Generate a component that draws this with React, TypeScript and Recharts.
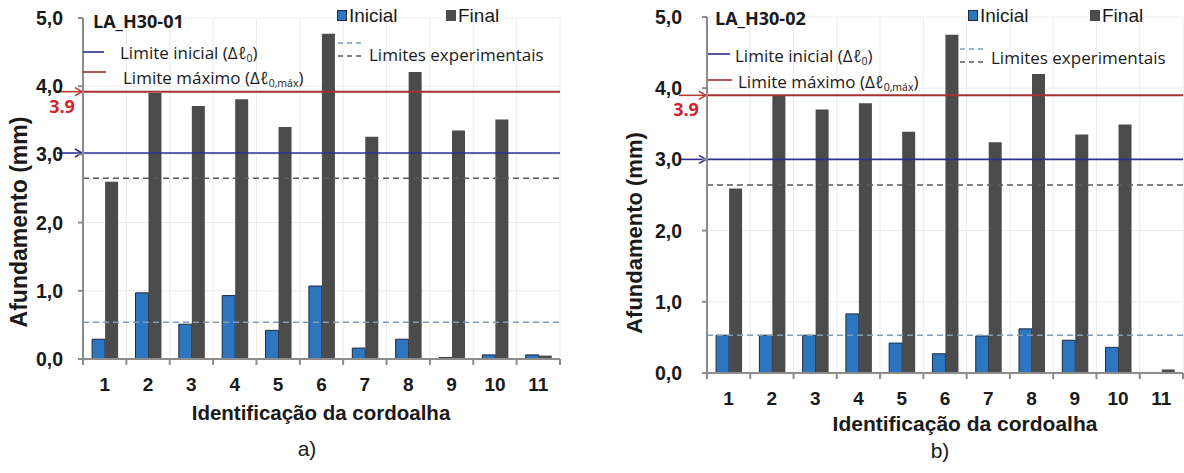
import React from 'react';
import { ComposedChart, Bar, XAxis, YAxis, CartesianGrid, ReferenceLine } from 'recharts';

// ---------- data ----------
const categories = ['1', '2', '3', '4', '5', '6', '7', '8', '9', '10', '11'];
const inicialA = [0.29, 0.97, 0.51, 0.93, 0.42, 1.07, 0.16, 0.29, 0.02, 0.06, 0.06];
const finalA = [2.6, 3.9, 3.71, 3.81, 3.4, 4.77, 3.26, 4.21, 3.35, 3.51, 0.05];
const inicialB = [0.53, 0.53, 0.53, 0.83, 0.42, 0.27, 0.52, 0.62, 0.46, 0.36, 0];
const finalB = [2.59, 3.9, 3.7, 3.79, 3.39, 4.75, 3.24, 4.2, 3.35, 3.49, 0.05];
const yTicks = [0, 1, 2, 3, 4, 5];
const limitesA = [3.02, 3.92]; // inicial, máximo
const limitesB = [3.0, 3.9];
const experimentaisA = [2.65, 0.54]; // final, inicial
const experimentaisB = [2.64, 0.53];
const maxLabel = '3.9';

// ---------- styles ----------
const AXIS = '#8c8c8c';
const TEXT = '#1a1a1a';
const BLUE = '#2e75c0';
const BORDER = '#1c2a3a';
const GREY = '#4b4b4b';
const RED_LINE = '#a8302e';
const NAVY = '#2d2f92';
const RED_TEXT = '#d0232a';
const DASH_DARK = '#5a5a5a';
const DASH_BLUE = '#7f9db8';
const ARIAL = '"Liberation Sans", Arial, sans-serif';
const OPEN = '"Open Sans", "Liberation Sans", sans-serif';

const buildRows = (ini: number[], fin: number[]) =>
  categories.map((c, i) => ({ cat: c, inicial: ini[i], final: fin[i] }));

const ArrowLabel = (props: any) => {
  const { viewBox, color, text, len } = props;
  if (!viewBox) return null;
  const x = viewBox.x;
  const y = viewBox.y;
  return (
    <g>
      <line x1={x - len} y1={y} x2={x - 1} y2={y} stroke={color} strokeWidth={1.6} />
      <path d={`M${x - 8},${y - 4} L${x - 1},${y} L${x - 8},${y + 4}`} fill="none" stroke={color} strokeWidth={1.6} />
      {text ? (
        <text x={x - 21} y={y + 14} textAnchor="middle" dominantBaseline="central" fontSize={18} fontWeight={700} fill={RED_TEXT} fontFamily={OPEN}>
          {text}
        </text>
      ) : null}
    </g>
  );
};

const makeXTick = (bw: number) => (props: any) => {
  const { x, y, payload } = props;
  const half = typeof payload.offset === 'number' && payload.offset > 0 ? payload.offset : bw / 2;
  const last = payload.index === categories.length - 1;
  return (
    <g>
      <line x1={x - half} y1={y} x2={x - half} y2={y + 6} stroke={AXIS} strokeWidth={2} />
      {last ? <line x1={x + half} y1={y} x2={x + half} y2={y + 6} stroke={AXIS} strokeWidth={2} /> : null}
      <text x={x} y={y + 25} textAnchor="middle" dominantBaseline="central" fontSize={19} fontWeight={700} fill={TEXT} fontFamily={ARIAL}>
        {payload.value}
      </text>
    </g>
  );
};

type PanelProps = {
  left: number;
  width: number;
  margin: { top: number; right: number; bottom: number; left: number };
  yAxisWidth: number;
  yTickMargin: number;
  ini: number[];
  fin: number[];
  limites: number[];
  exper: number[];
};

const Panel = (p: PanelProps) => {
  const data = buildRows(p.ini, p.fin);
  const plotW = p.width - p.margin.left - p.margin.right - p.yAxisWidth;
  const bw = plotW / categories.length;
  return (
    <div style={{ position: 'absolute', left: p.left, top: 0 }}>
      <ComposedChart width={p.width} height={473} data={data} margin={p.margin} barCategoryGap="21%" barGap={0}>
        <CartesianGrid
          stroke="#ececec"
          strokeWidth={1}
          verticalCoordinatesGenerator={({ offset }: any) =>
            categories.map((_, i) => offset.left + ((i + 1) * offset.width) / categories.length)
          }
        />
        <XAxis
          dataKey="cat"
          interval={0}
          height={30}
          tickSize={0}
          tickMargin={0}
          tickLine={false}
          axisLine={{ stroke: AXIS, strokeWidth: 2 }}
          tick={makeXTick(bw)}
        />
        <YAxis
          domain={[0, 5]}
          ticks={yTicks}
          width={p.yAxisWidth}
          tickSize={5}
          tickMargin={p.yTickMargin}
          axisLine={{ stroke: AXIS, strokeWidth: 2 }}
          tickLine={{ stroke: AXIS, strokeWidth: 2 }}
          tickFormatter={(v: number) => v.toFixed(1).replace('.', ',')}
          tick={{ fontSize: 19.5, fontWeight: 700, fill: TEXT, fontFamily: ARIAL }}
          allowDataOverflow
        />
        <ReferenceLine y={p.exper[0]} stroke={DASH_DARK} strokeDasharray="6 4" strokeWidth={1.5} />
        <ReferenceLine y={p.exper[1]} stroke={DASH_BLUE} strokeDasharray="6 4" strokeWidth={1.5} />
        <Bar dataKey="inicial" fill={BLUE} stroke={BORDER} strokeWidth={1} isAnimationActive={false} />
        <Bar dataKey="final" fill={GREY} isAnimationActive={false} />
        <ReferenceLine y={p.limites[1]} stroke={RED_LINE} strokeWidth={2} label={<ArrowLabel color="#c0392b" text={maxLabel} len={28} />} />
        <ReferenceLine y={p.limites[0]} stroke={NAVY} strokeWidth={1.6} label={<ArrowLabel color={NAVY} len={26} />} />
      </ComposedChart>
    </div>
  );
};

const Txt = (props: any) => {
  const { x, y, size, weight, family, color, center, children } = props;
  return (
    <div
      style={{
        position: 'absolute',
        left: x,
        top: y,
        transform: center ? 'translate(-50%, -50%)' : 'translateY(-50%)',
        fontSize: size,
        fontWeight: weight || 400,
        fontFamily: family || ARIAL,
        color: color || TEXT,
        whiteSpace: 'nowrap',
        lineHeight: 1,
      }}
    >
      {children}
    </div>
  );
};

const Sq = ({ x, y, color, border }: any) => (
  <div style={{ position: 'absolute', left: x, top: y, width: 8, height: 9, background: color, border: `1px solid ${border}` }} />
);

const HLine = ({ x, y, w, color, dash }: any) => (
  <svg style={{ position: 'absolute', left: x, top: y - 2 }} width={w} height={4}>
    <line x1={0} y1={2} x2={w} y2={2} stroke={color} strokeWidth={1.6} strokeDasharray={dash} />
  </svg>
);

const Sub = ({ children }: any) => (
  <span style={{ fontSize: '0.62em', verticalAlign: 'baseline', display: 'inline-block', transform: 'translateY(0.3em)' }}>{children}</span>
);

const Legends = ({ name, layout }: any) => {
  const L = layout;
  return (
    <>
      <Txt x={L.nameX} y={L.nameY} size={18} weight={700} family={OPEN}>{name}</Txt>
      <Sq x={L.iniSqX} y={L.sqY} color={BLUE} border={BORDER} />
      <Txt x={L.iniSqX + 12} y={L.sqY + 5} size={19}>Inicial</Txt>
      <Sq x={L.finSqX} y={L.sqY} color={GREY} border={GREY} />
      <Txt x={L.finSqX + 12} y={L.sqY + 5} size={19}>Final</Txt>
      <HLine x={L.lineX} y={L.blueY} w={L.lineW} color={NAVY} />
      <Txt x={L.blueTX} y={L.blueTY} size={17} family={OPEN}>
        Limite inicial (Δℓ<Sub>0</Sub>)
      </Txt>
      <HLine x={L.lineX} y={L.redY} w={L.lineW + 2} color={RED_LINE} />
      <Txt x={L.redTX} y={L.redTY} size={17} family={OPEN}>
        Limite máximo (Δℓ<Sub>0,máx</Sub>)
      </Txt>
      <HLine x={L.dashX} y={L.dashY1} w={24} color={DASH_BLUE} dash="5 4" />
      <HLine x={L.dashX} y={L.dashY2} w={24} color={DASH_DARK} dash="5 4" />
      <Txt x={L.dashX + 31} y={L.dashTY} size={17} family={OPEN}>Limites experimentais</Txt>
    </>
  );
};

const layoutA = {
  nameX: 93, nameY: 21, iniSqX: 337, finSqX: 446, sqY: 10,
  lineX: 83, lineW: 21, blueY: 52, blueTY: 52, blueTX: 120, redY: 72, redTY: 77, redTX: 123,
  dashX: 338, dashY1: 43, dashY2: 56, dashTY: 54,
};
const layoutB = {
  nameX: 715, nameY: 18, iniSqX: 968, finSqX: 1090, sqY: 10,
  lineX: 708, lineW: 22, blueY: 54, blueTY: 55, blueTX: 735, redY: 80, redTY: 81, redTX: 738,
  dashX: 960, dashY1: 49, dashY2: 62, dashTY: 57,
};

export default function App() {
  return (
    <div style={{ position: 'absolute', left: 0, top: 0, width: 1184, height: 473, background: '#fff', overflow: 'hidden' }}>
      <Panel
        left={0}
        width={580}
        margin={{ top: 18, right: 20, bottom: 84, left: 0 }}
        yAxisWidth={83}
        yTickMargin={15}
        ini={inicialA}
        fin={finalA}
        limites={limitesA}
        exper={experimentaisA}
      />
      <Panel
        left={600}
        width={584}
        margin={{ top: 17, right: 1, bottom: 70, left: 0 }}
        yAxisWidth={107}
        yTickMargin={20}
        ini={inicialB}
        fin={finalB}
        limites={limitesB}
        exper={experimentaisB}
      />
      <Legends name="LA_H30-01" layout={layoutA} />
      <Legends name="LA_H30-02" layout={layoutB} />

      <div style={{ position: 'absolute', left: 19, top: 222, transform: 'translate(-50%, -50%) rotate(-90deg)', fontSize: 23, fontWeight: 700, fontFamily: ARIAL, color: TEXT, whiteSpace: 'nowrap', lineHeight: 1 }}>
        Afundamento (mm)
      </div>
      <div style={{ position: 'absolute', left: 635, top: 233, transform: 'translate(-50%, -50%) rotate(-90deg)', fontSize: 22, fontWeight: 700, fontFamily: ARIAL, color: TEXT, whiteSpace: 'nowrap', lineHeight: 1 }}>
        Afundamento (mm)
      </div>
      <Txt x={321} y={413} size={20.5} weight={700} center>Identificação da cordoalha</Txt>
      <Txt x={965} y={423} size={21} weight={700} center>Identificação da cordoalha</Txt>
      <Txt x={307} y={448} size={21} center>a)</Txt>
      <Txt x={940} y={450} size={21} center>b)</Txt>
    </div>
  );
}
